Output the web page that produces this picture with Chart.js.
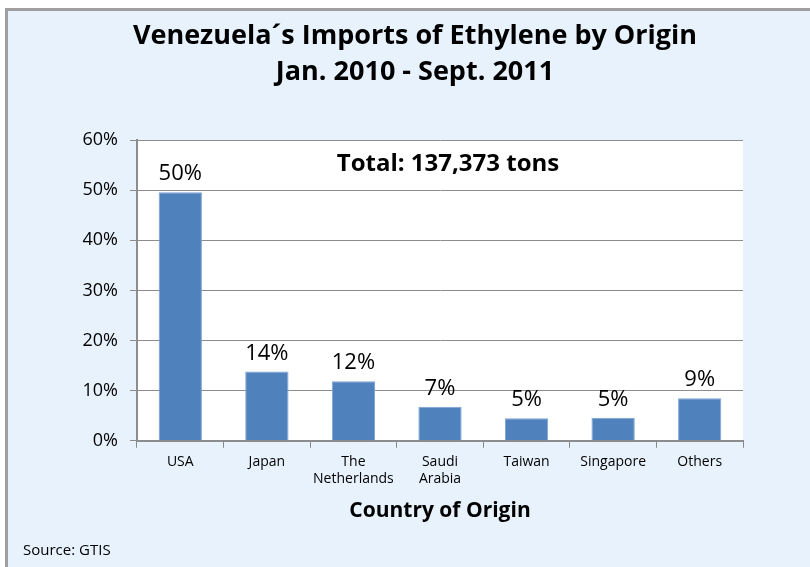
<!DOCTYPE html>
<html>
<head>
<meta charset="utf-8">
<script src="https://cdn.jsdelivr.net/npm/chart.js@4/dist/chart.umd.min.js"></script>
<style>
  html, body { margin: 0; padding: 0; background: #ffffff; }
  #wrap { width: 810px; height: 567px; }
</style>
</head>
<body>
<div id="wrap"><canvas id="c" width="810" height="567"></canvas></div>
<script>
// chart data
const countries = [['USA'], ['Japan'], ['The', 'Netherlands'], ['Saudi', 'Arabia'], ['Taiwan'], ['Singapore'], ['Others']];
const shares = [49.6, 13.8, 11.9, 6.8, 4.5, 4.6, 8.5];
const yTicks = [0, 10, 20, 30, 40, 50, 60];
const titleLines = ['Venezuela\u00b4s Imports of Ethylene by Origin', 'Jan. 2010 - Sept. 2011'];
const totalNote = 'Total: 137,373 tons';
const sourceNote = 'Source: GTIS';

const FONT = '"Open Sans", "Noto Sans", sans-serif';

// light blue panel with grey border, titles, notes and value labels
const panelPlugin = {
    id: 'panel',
    beforeDraw(chart) {
        const { ctx, chartArea } = chart;
        ctx.save();
        ctx.fillStyle = '#e8f2fc';
        ctx.fillRect(0, 0, chart.width, chart.height);
        ctx.fillStyle = '#ffffff';
        ctx.fillRect(0, 0, chart.width, 8);
        ctx.fillRect(0, 0, 5, chart.height);
        ctx.strokeStyle = '#a0a0a0';
        ctx.lineWidth = 3;
        ctx.beginPath();
        ctx.moveTo(6.5, chart.height + 5);
        ctx.lineTo(6.5, 9.5);
        ctx.lineTo(chart.width + 5, 9.5);
        ctx.stroke();
        ctx.fillStyle = '#ffffff';
        ctx.fillRect(chartArea.left, chartArea.top, chartArea.right - chartArea.left, chartArea.bottom - chartArea.top);
        ctx.restore();
    },
    afterDraw(chart) {
        const { ctx } = chart;
        ctx.save();
        ctx.fillStyle = '#000000';
        ctx.textAlign = 'center';
        ctx.textBaseline = 'middle';
        ctx.font = 'bold 27px ' + FONT;
        ctx.fillText(titleLines[0], 415, 36);
        ctx.fillText(titleLines[1], 415, 72);
        ctx.font = 'bold 24px ' + FONT;
        ctx.fillText(totalNote, 448, 164);
        ctx.textAlign = 'left';
        ctx.font = '15px ' + FONT;
        ctx.fillText(sourceNote, 23, 551);

        // value labels above bars
        const meta = chart.getDatasetMeta(0);
        ctx.textAlign = 'center';
        ctx.textBaseline = 'alphabetic';
        ctx.font = '22px ' + FONT;
        meta.data.forEach((bar, i) => {
            ctx.fillText(Math.round(shares[i]) + '%', bar.x, bar.y - 12);
        });
        ctx.restore();
    }
};

new Chart(document.getElementById('c'), {
    type: 'bar',
    data: {
        labels: countries,
        datasets: [{
            data: shares,
            backgroundColor: '#4f81bd',
            borderColor: '#7ea3d2',
            borderWidth: 1,
            barPercentage: 0.5,
            categoryPercentage: 1.0
        }]
    },
    options: {
        responsive: false,
        animation: false,
        layout: { padding: { left: 0, right: 67, top: 140, bottom: 43 } },
        plugins: {
            legend: { display: false },
            tooltip: { enabled: false },
            title: { display: false }
        },
        scales: {
            x: {
                grid: { display: true, drawOnChartArea: false, color: '#888888', tickLength: 7, offset: true },
                border: { color: '#8c8c8c', width: 2 },
                ticks: {
                    color: '#000000',
                    font: { family: FONT, size: 14, lineHeight: 1.25 },
                    padding: 5,
                    maxRotation: 0,
                    autoSkip: false
                },
                title: {
                    display: true,
                    text: 'Country of Origin',
                    color: '#000000',
                    font: { family: FONT, size: 21, weight: 'bold' },
                    padding: { top: 6, bottom: 0 }
                }
            },
            y: {
                min: 0,
                max: 60,
                afterBuildTicks(scale) { scale.ticks = yTicks.map(v => ({ value: v })); },
                afterFit(scale) { scale.width = 137; },
                grid: { color: '#8c8c8c', tickLength: 7 },
                border: { color: '#8c8c8c', width: 2 },
                ticks: {
                    color: '#000000',
                    font: { family: FONT, size: 18 },
                    padding: 12,
                    callback: v => v + '%'
                }
            }
        }
    },
    plugins: [panelPlugin]
});
</script>
</body>
</html>
